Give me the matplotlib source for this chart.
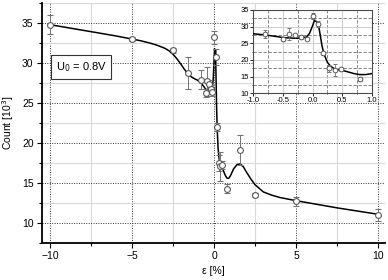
import numpy as np
import matplotlib
matplotlib.use("Agg")
import matplotlib.pyplot as plt
from matplotlib.ticker import MultipleLocator

plt.rcParams["font.family"] = ["Liberation Sans", "DejaVu Sans"]

# measured points (strain in %, count in 10^3)
strain = [-10, -5, -2.5, -1.6, -0.8, -0.5, -0.4, -0.3, -0.2, -0.1, 0.0, 0.1,
          0.18, 0.28, 0.38, 0.48, 0.8, 1.6, 2.5, 5, 10]
count = [34.8, 33.0, 31.6, 28.7, 27.9, 26.2, 27.7, 27.4, 26.8, 26.4, 33.2, 30.8,
         22.0, 17.5, 17.1, 17.2, 14.3, 19.1, 13.5, 12.7, 11.0]
count_err = [1.2, 0.3, 0.3, 2.0, 1.2, 0.5, 1.8, 0.5, 0.5, 0.5, 0.8, 1.0,
             0.5, 1.0, 1.8, 0.5, 0.6, 1.9, 0.3, 0.6, 0.7]

# fitted curve
fit_x = [-10, -8, -6, -5, -4.5, -4, -3.5, -3, -2.75, -2.5, -2.25, -2, -1.8,
         -1.6, -1.4, -1.2, -1.0, -0.8, -0.6, -0.5, -0.3, -0.2, -0.1, -0.05,
         0.0, 0.03, 0.07, 0.1, 0.13, 0.16, 0.2, 0.25, 0.3, 0.38, 0.5, 0.6,
         0.7, 0.8, 0.9, 1.0, 1.2, 1.4, 1.6, 1.8, 2.0, 2.25, 2.5, 3.0, 3.5,
         4.0, 5.0, 7.5, 10]
fit_y = [34.8, 34.1, 33.4, 33.0, 32.8, 32.55, 32.25, 31.85, 31.55, 31.1, 30.5,
         29.8, 29.2, 28.7, 28.3, 28.05, 27.85, 27.5, 27.0, 26.7, 26.5, 26.5,
         26.9, 28.0, 30.2, 31.8, 31.5, 30.5, 27.5, 24.2, 21.5, 19.3, 18.2,
         17.2, 16.9, 16.4, 15.9, 15.6, 15.6, 15.9, 16.8, 17.3, 17.4, 17.0,
         16.3, 15.5, 14.8, 13.9, 13.5, 13.2, 12.8, 11.9, 11.1]

fig = plt.figure(figsize=(3.88, 2.8), dpi=100)
ax = fig.add_axes([0.108, 0.132, 0.883, 0.857])

ax.plot(fit_x, fit_y, color="black", lw=1.1, zorder=3)
ax.errorbar(strain, count, yerr=count_err, fmt="o", ms=4.2, mfc="white",
            mec="0.35", mew=0.8, ecolor="0.45", elinewidth=0.7, capsize=2,
            capthick=0.7, zorder=4)

ax.set_xlim(-10.5, 10.4)
ax.set_ylim(7.5, 37.5)
ax.xaxis.set_major_locator(MultipleLocator(5))
ax.xaxis.set_minor_locator(MultipleLocator(2.5))
ax.yaxis.set_major_locator(MultipleLocator(5))
ax.yaxis.set_minor_locator(MultipleLocator(2.5))
ax.grid(which="major", ls=(0, (1, 1.5)), color="0.2", lw=0.7)
ax.grid(which="minor", ls="-", color="0.85", lw=0.8)
ax.set_axisbelow(True)
for s in ["top", "right"]:
    ax.spines[s].set_visible(False)
for s in ["left", "bottom"]:
    ax.spines[s].set_linewidth(1.3)
ax.tick_params(which="major", labelsize=7.5, length=3.5, width=0.8, pad=2.5)
ax.tick_params(which="minor", length=2, width=0.8)
ax.set_xlabel("ε [%]", fontsize=7.5, labelpad=3)
ax.set_ylabel("Count [10$^3$]", fontsize=7.5, labelpad=4)

ax.text(0.114, 0.733, "U$_0$ = 0.8V", transform=ax.transAxes, fontsize=8,
        ha="center", va="center",
        bbox=dict(boxstyle="square,pad=0.45", fc="white", ec="0.2", lw=0.8))

# inset zoom around zero strain
ins = fig.add_axes([0.653, 0.667, 0.305, 0.2975])
ins.plot(fit_x, fit_y, color="black", lw=1.1, zorder=3)
ins.errorbar(strain, count, yerr=count_err, fmt="o", ms=3.4, mfc="white",
             mec="0.35", mew=0.7, ecolor="0.45", elinewidth=0.6, capsize=1.5,
             capthick=0.6, zorder=4)
ins.set_xlim(-1, 1)
ins.set_ylim(10, 35)
ins.xaxis.set_major_locator(MultipleLocator(0.5))
ins.xaxis.set_minor_locator(MultipleLocator(0.25))
ins.yaxis.set_major_locator(MultipleLocator(5))
ins.yaxis.set_minor_locator(MultipleLocator(2.5))
ins.grid(which="major", ls="-", color="0.82", lw=0.8)
ins.grid(which="minor", ls=(0, (4, 2)), color="0.45", lw=0.6)
ins.set_axisbelow(True)
for s in ins.spines.values():
    s.set_linewidth(0.8)
    s.set_color("0.3")
ins.tick_params(which="major", labelsize=5.5, length=2, width=0.6, pad=1)
ins.tick_params(which="minor", length=1, width=0.6)
ins.xaxis.set_major_formatter(plt.FormatStrFormatter("%.1f"))

fig.savefig("out.png", dpi=100)
